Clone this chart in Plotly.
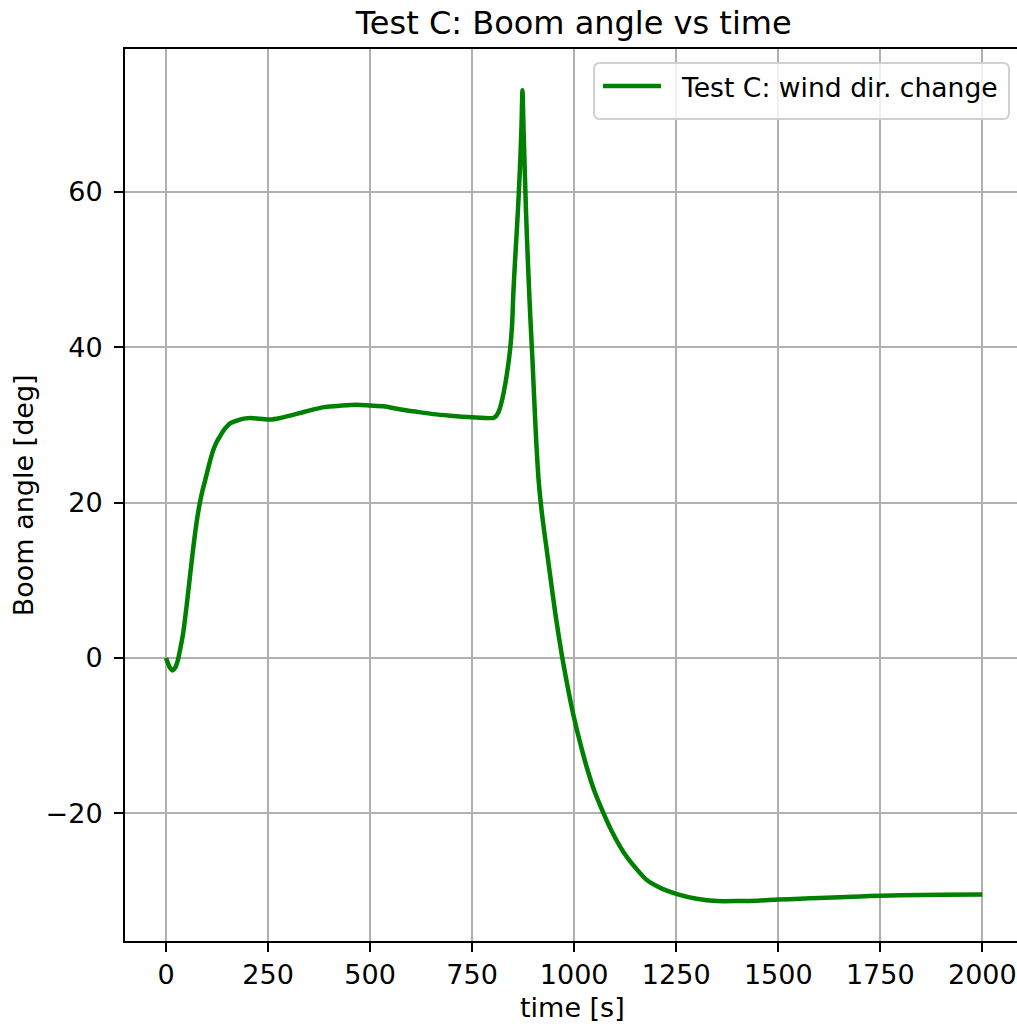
import plotly.graph_objects as go

# Data
time_s = [0, 5, 10, 16, 22, 28, 35, 42, 50, 58, 67, 75, 83, 90, 96, 106, 116, 125, 133, 141,
          149, 157, 165, 181, 195, 206, 230, 255, 280, 304, 340, 386, 430, 467, 500, 533,
          575, 614, 655, 696, 750, 802, 808, 815, 821, 827, 835, 843, 848, 851, 855, 860,
          864, 868, 871, 873.3, 876, 878.2, 882, 886.5, 892, 897.8, 905.6, 912.9, 921.5,
          930, 941, 955, 970, 984, 998, 1015, 1031, 1050, 1072, 1095, 1121, 1150, 1178,
          1215, 1252, 1300, 1350, 1400, 1450, 1500, 1554, 1600, 1700, 1750, 1800, 1900, 2000]
boom_deg = [0, -0.7, -1.3, -1.6, -1.3, -0.5, 1.2, 3.2, 6.5, 10.2, 14.3, 17.5, 20.0, 21.7,
            22.9, 25.0, 26.8, 27.9, 28.6, 29.3, 29.8, 30.2, 30.4, 30.7, 30.85, 30.9, 30.8,
            30.7, 30.9, 31.2, 31.7, 32.3, 32.5, 32.6, 32.5, 32.4, 32.0, 31.7, 31.4, 31.2,
            31.0, 30.9, 31.1, 31.7, 32.7, 34.1, 36.5, 39.7, 43.0, 47.0, 51.0, 55.5, 59.5,
            64.1, 68.5, 73.1, 68.0, 64.1, 57.5, 51.2, 44.5, 38.4, 29.4, 22.9, 18.4, 15.0,
            10.7, 5.3, 0.3, -3.7, -7.3, -11.0, -14.1, -17.2, -20.0, -22.6, -25.0, -27.0,
            -28.6, -29.7, -30.4, -31.0, -31.3, -31.3, -31.25, -31.1, -31.0, -30.9, -30.7,
            -30.6, -30.55, -30.5, -30.45]

x_ticks = [0, 250, 500, 750, 1000, 1250, 1500, 1750, 2000]
y_ticks = [-20, 0, 20, 40, 60]
y_tick_text = ["\u221220", "0", "20", "40", "60"]

series_name = "Test C: wind dir. change"
title_text = "Test C: Boom angle vs time"
x_label = "time [s]"
y_label = "Boom angle [deg]"

FONT = "DejaVu Sans"
GREEN = "#008000"

# plot-area geometry (pixels)
L, R, T, B = 125, 1017, 49, 941
W, H = R - L, B - T


def px_x(p):
    return (p - L) / W


def px_y(p):
    return (B - p) / H


fig = go.Figure()
fig.add_trace(go.Scatter(
    x=time_s, y=boom_deg, mode="lines", name=series_name,
    line=dict(color=GREEN, width=4.5, shape="spline", smoothing=0.6), showlegend=False,
))

axis_common = dict(
    showgrid=True, gridcolor="#b0b0b0", gridwidth=2,
    showline=True, linecolor="black", linewidth=2,
    ticks="outside", ticklen=9, tickwidth=2, tickcolor="black",
    tickfont=dict(family=FONT, size=27, color="black"),
    zeroline=False,
)

# legend frame (rounded box) drawn in paper coordinates
bx0, bx1, by0, by1, rad = px_x(594), px_x(1009), px_y(119), px_y(63), 6 / W
legend_path = (
    f"M{bx0 + rad},{by1} L{bx1 - rad},{by1} Q{bx1},{by1} {bx1},{by1 - rad} "
    f"L{bx1},{by0 + rad} Q{bx1},{by0} {bx1 - rad},{by0} "
    f"L{bx0 + rad},{by0} Q{bx0},{by0} {bx0},{by0 + rad} "
    f"L{bx0},{by1 - rad} Q{bx0},{by1} {bx0 + rad},{by1} Z"
)

fig.update_layout(
    width=1017, height=1024,
    margin=dict(l=L, r=1017 - R, t=T, b=1024 - B, autoexpand=False),
    paper_bgcolor="white", plot_bgcolor="white",
    font=dict(family=FONT, size=27, color="black"),
    title=dict(text=title_text, x=0.503, xref="paper", xanchor="center",
               y=1 - 23 / 1024, yref="container", yanchor="middle",
               font=dict(family=FONT, size=32, color="black")),
    xaxis=dict(range=[-100.5, 2085], tickvals=x_ticks, mirror=True,
               ticklabelstandoff=0, **axis_common),
    yaxis=dict(range=[-36.44, 78.41], tickvals=y_ticks, ticktext=y_tick_text,
               ticklabelstandoff=6, **axis_common),
    showlegend=False,
    shapes=[
        dict(type="path", path=legend_path, xref="paper", yref="paper",
             fillcolor="rgba(255,255,255,0.8)", line=dict(color="#d0d0d0", width=2),
             layer="above"),
        dict(type="line", xref="paper", yref="paper",
             x0=px_x(603), x1=px_x(661), y0=px_y(86), y1=px_y(86),
             line=dict(color=GREEN, width=4.5), layer="above"),
    ],
    annotations=[
        dict(text=series_name, xref="paper", yref="paper", x=px_x(679), y=px_y(88),
             xanchor="left", yanchor="middle", showarrow=False,
             font=dict(family=FONT, size=26.6, color="black")),
        dict(text=x_label, xref="paper", yref="paper", x=0.502, y=-0.075,
             xanchor="center", yanchor="middle", showarrow=False,
             font=dict(family=FONT, size=27, color="black")),
        dict(text=y_label, xref="paper", yref="paper", x=-0.114, y=0.5,
             xanchor="center", yanchor="middle", textangle=-90, showarrow=False,
             font=dict(family=FONT, size=27, color="black")),
    ],
)

fig.write_html("out.html")
